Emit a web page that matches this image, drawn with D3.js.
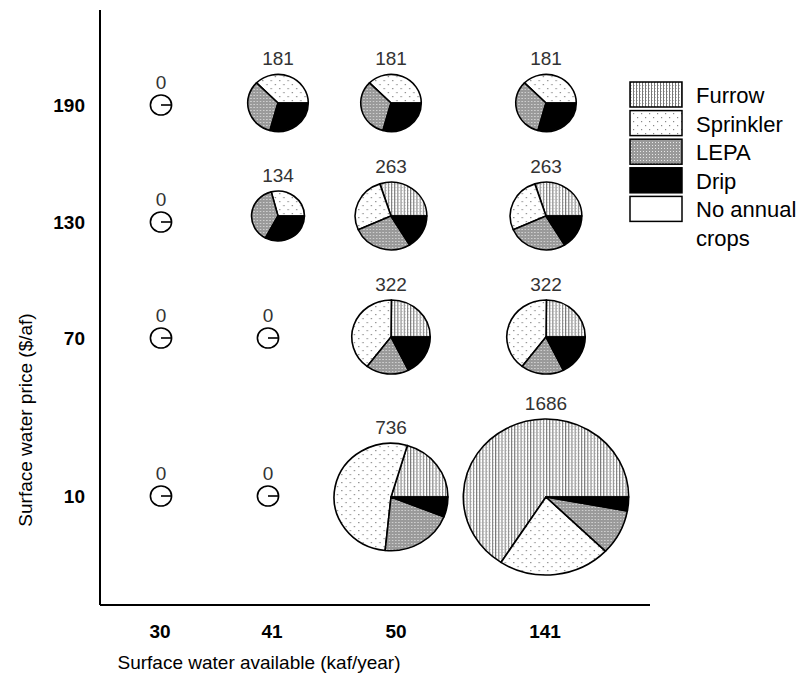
<!DOCTYPE html>
<html><head><meta charset="utf-8">
<script src="https://cdn.jsdelivr.net/npm/d3@7/dist/d3.min.js"></script>
<style>body{margin:0;background:#fff}svg{display:block}text{font-family:"Liberation Sans",Arial,sans-serif}</style>
</head><body>
<script>
// ---- data ----
const availCats = ["30","41","50","141"];          // surface water available (kaf/year)
const priceCats = ["190","130","70","10"];          // surface water price ($/af)
const methods   = ["Furrow","Sprinkler","LEPA","Drip"];
const legendLabels = ["Furrow","Sprinkler","LEPA","Drip","No annual crops"];
const cellPrice = ["190","190","190","190","130","130","130","130","70","70","70","70","10","10","10","10"];
const cellAvail = ["30","41","50","141","30","41","50","141","30","41","50","141","30","41","50","141"];
const furrow    = [0,0,0,0,      0,0,79,79,     0,0,80,80,    0,0,150,1110];
const sprinkler = [0,68,68,68,   0,39,70,70,    0,0,128,128,  0,0,390,370];
const lepa      = [0,60,60,60,   0,51,71,71,    0,0,57,57,    0,0,152,158];
const drip      = [0,53,53,53,   0,44,43,43,    0,0,57,57,    0,0,44,48];

const W = 801, H = 678;
const svg = d3.select("body").append("svg").attr("width", W).attr("height", H);

// patterns
const defs = svg.append("defs");
const pF = defs.append("pattern").attr("id","pFurrow").attr("patternUnits","userSpaceOnUse").attr("width",3).attr("height",3);
pF.append("rect").attr("width",3).attr("height",3).attr("fill","#fff");
pF.append("rect").attr("x",0).attr("width",1).attr("height",3).attr("fill","#777");
pF.append("rect").attr("x",1).attr("y",1).attr("width",1).attr("height",1).attr("fill","#bbb");
const pS = defs.append("pattern").attr("id","pSprinkler").attr("patternUnits","userSpaceOnUse").attr("width",8).attr("height",8);
pS.append("rect").attr("width",8).attr("height",8).attr("fill","#fff");
pS.append("rect").attr("x",1).attr("y",1).attr("width",1.2).attr("height",1.2).attr("fill","#888");
pS.append("rect").attr("x",5).attr("y",5).attr("width",1.2).attr("height",1.2).attr("fill","#888");
const pL = defs.append("pattern").attr("id","pLEPA").attr("patternUnits","userSpaceOnUse").attr("width",3).attr("height",3);
pL.append("rect").attr("width",3).attr("height",3).attr("fill","#9a9a9a");
pL.append("rect").attr("x",1).attr("y",1).attr("width",1).attr("height",1).attr("fill","#e8e8e8");

const fills = d3.scaleOrdinal().domain(legendLabels)
  .range(["url(#pFurrow)","url(#pSprinkler)","url(#pLEPA)","#000","#fff"]);

// scales (layout)
const xPie  = d3.scaleOrdinal().domain(availCats).range([163, 278, 391, 546]);
const xZero = d3.scaleOrdinal().domain(availCats).range([161, 268, 391, 546]);
const yPie  = d3.scaleOrdinal().domain(priceCats).range([103, 216, 337, 497]);
const yZero = d3.scaleOrdinal().domain(priceCats).range([105, 222, 338, 496]);
const yTick = yZero;
const xTick = d3.scaleOrdinal().domain(availCats).range([160, 272, 396, 545]);
const rScale = d3.scalePow().exponent(0.45).domain([0, 1686]).range([0, 78]);
const rZero = 10, stretch = 1.06;

// axes lines
const axX0 = 100, axY1 = 605;
svg.append("line").attr("x1",axX0).attr("x2",axX0).attr("y1",10).attr("y2",axY1).attr("stroke","#000").attr("stroke-width",2);
svg.append("line").attr("x1",axX0).attr("x2",650).attr("y1",axY1).attr("y2",axY1).attr("stroke","#000").attr("stroke-width",2);

svg.selectAll(".ytl").data(priceCats).join("text")
  .attr("x", 85).attr("y", d => yTick(d)).attr("text-anchor","end").attr("dy","0.35em")
  .attr("font-size",19).attr("font-weight","bold").text(d => d);
svg.selectAll(".xtl").data(availCats).join("text")
  .attr("x", d => xTick(d)).attr("y", 638).attr("text-anchor","middle")
  .attr("font-size",19).attr("font-weight","bold").text(d => d);

svg.append("text").attr("x",259).attr("y",669).attr("text-anchor","middle").attr("font-size",19)
  .text("Surface water available (kaf/year)");
svg.append("text").attr("transform","translate(32,420) rotate(-90)").attr("text-anchor","middle").attr("font-size",19)
  .text("Surface water price ($/af)");

// pies
const pie = d3.pie().sort(null).value(d => d.v).startAngle(Math.PI/2).endAngle(Math.PI/2 - 2*Math.PI);
const cells = cellPrice.map((p,i) => ({
  price: p, avail: cellAvail[i],
  parts: [furrow[i], sprinkler[i], lepa[i], drip[i]].map((v,j) => ({k: methods[j], v}))
}));
cells.forEach(c => {
  const total = d3.sum(c.parts, d => d.v);
  const zero = total === 0;
  const r = zero ? rZero : rScale(total);
  const cx = zero ? xZero(c.avail) : xPie(c.avail);
  const cy = zero ? yZero(c.price) : yPie(c.price);
  const g = svg.append("g").attr("transform", `translate(${cx},${cy}) scale(${stretch},1)`);
  const arc = d3.arc().innerRadius(0).outerRadius(r);
  const data = zero ? [{k:"No annual crops", v:1}] : c.parts.filter(d => d.v > 0);
  g.selectAll("path").data(pie(data)).join("path")
    .attr("d", arc).attr("fill", d => fills(d.data.k))
    .attr("stroke","#000").attr("stroke-width",1.6).attr("vector-effect","non-scaling-stroke")
    .attr("stroke-linejoin","round");
  if (zero) {
    g.append("line").attr("x1",0).attr("y1",0).attr("x2",r).attr("y2",0)
      .attr("stroke","#000").attr("stroke-width",1.6).attr("vector-effect","non-scaling-stroke");
  }
  svg.append("text").attr("x", cx).attr("y", cy - r - (zero ? 6 : 9))
    .attr("text-anchor","middle").attr("font-size",19).attr("fill","#333").text(total);
});

// legend
const lg = svg.append("g");
legendLabels.forEach((l,i) => {
  const y0 = 82 + i*28.6;
  lg.append("rect").attr("x",630).attr("y",y0).attr("width",52).attr("height",25)
    .attr("fill", fills(l)).attr("stroke","#000").attr("stroke-width",1.5);
  if (l === "No annual crops") {
    lg.append("text").attr("x",696).attr("y",y0+21).attr("font-size",22).text("No annual");
    lg.append("text").attr("x",696).attr("y",y0+50).attr("font-size",22).text("crops");
  } else {
    lg.append("text").attr("x",696).attr("y",y0+21).attr("font-size",22).text(l);
  }
});
</script>
</body></html>
